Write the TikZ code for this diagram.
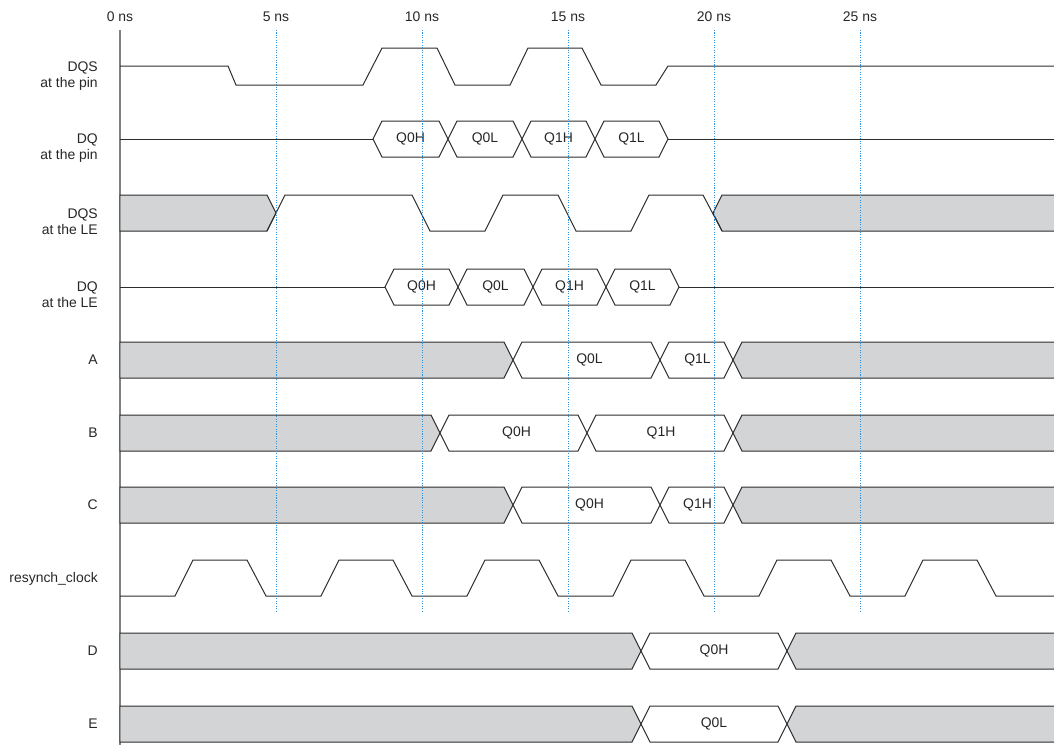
\documentclass[tikz,border=0pt]{standalone}
\usepackage{fontspec}
\setmainfont{Liberation Sans}
\definecolor{wavegray}{RGB}{211,212,214}
\definecolor{wireline}{RGB}{45,45,45}
\definecolor{markblue}{RGB}{50,145,210}
\begin{document}
\begin{tikzpicture}[x=0.03cm, y=-0.03cm,
    wave/.style={draw=wireline, line width=0.85pt},
    undef/.style={wave, fill=wavegray},
    valid/.style={wave, fill=white},
    marker/.style={markblue, dash pattern=on 0.9pt off 1.2pt, line width=0.85pt},
    axisline/.style={draw=black!50, line width=1.4pt},
    txt/.style={font=\fontsize{11.9}{13.8}\selectfont, text=black!85, inner sep=0pt},
    signame/.style={txt, align=right, anchor=east}]
    \useasboundingbox (0,0) rectangle (1054,745);

    % time axis
    \draw[axisline] (120,30) -- (120,745);
    \foreach \t/\x in {0/120,5/276,10/422,15/568,20/714,25/860}
        \node[txt] (t\t) at (\x,17) {\t\ ns};

    % signal names
    \node[signame] (nDQSpin) at (98,76) {DQS\\at the pin};
    \node[signame] (nDQpin) at (98,148) {DQ\\at the pin};
    \node[signame] (nDQSle) at (98,222) {DQS\\at the LE};
    \node[signame] (nDQle) at (98,295) {DQ\\at the LE};
    \node[signame] (nA) at (98,360) {A};
    \node[signame] (nB) at (98,433) {B};
    \node[signame] (nC) at (98,505) {C};
    \node[signame] (nclk) at (98,579) {resynch\_clock};
    \node[signame] (nD) at (98,651) {D};
    \node[signame] (nE) at (98,724) {E};

    % DQS at the pin
    \draw[wave] (120,66) -- (228,66) -- (236,85) -- (363,85) -- (382,48) -- (437,48) -- (455,85)
        -- (510,85) -- (528,48) -- (582,48) -- (601,85) -- (656,85) -- (668,66) -- (1060,66);

    % DQ at the pin
    \draw[wave] (120,139) -- (373,139);
    \draw[wave] (668,139) -- (1060,139);
    \foreach \a/\b/\v in {373/448/Q0H, 448/522/Q0L, 522/595/Q1H, 595/668/Q1L}{
        \draw[valid] (\a,139) -- ({\a+9},121) -- ({\b-9},121) -- (\b,139) -- ({\b-9},157) -- ({\a+9},157) -- cycle;
        \node[txt] (pin\v) at ({(\a+\b)/2},139) {\v};
    }

    % DQS at the LE
    \draw[undef] (120,195) -- (267,195) -- (276,213) -- (267,231) -- (120,231) -- cycle;
    \draw[undef] (713,213) -- (722,195) -- (1060,195) -- (1060,231) -- (722,231) -- cycle;
    \draw[wave] (267,231) -- (285,195) -- (412,195) -- (430,231) -- (485,231) -- (503,195) -- (558,195)
        -- (576,231) -- (631,231) -- (649,195) -- (703,195) -- (722,231);

    % DQ at the LE
    \draw[wave] (120,287) -- (385,287);
    \draw[wave] (679,287) -- (1060,287);
    \foreach \a/\b/\v in {385/458/Q0H, 458/533/Q0L, 533/606/Q1H, 606/679/Q1L}{
        \draw[valid] (\a,287) -- ({\a+9},269) -- ({\b-9},269) -- (\b,287) -- ({\b-9},305) -- ({\a+9},305) -- cycle;
        \node[txt] (le\v) at ({(\a+\b)/2},287) {\v};
    }

    % A, B, C, D, E
    \foreach \r/\c/\p/\q/\s/\u/\w in {A/360/513/660/733/Q0L/Q1L, B/433/440/587/733/Q0H/Q1H, C/505/513/660/733/Q0H/Q1H}{
        \draw[undef] (120,{\c-18}) -- ({\p-9},{\c-18}) -- (\p,\c) -- ({\p-9},{\c+18}) -- (120,{\c+18}) -- cycle;
        \draw[valid] (\p,\c) -- ({\p+9},{\c-18}) -- ({\q-9},{\c-18}) -- (\q,\c) -- ({\q-9},{\c+18}) -- ({\p+9},{\c+18}) -- cycle;
        \draw[valid] (\q,\c) -- ({\q+9},{\c-18}) -- ({\s-9},{\c-18}) -- (\s,\c) -- ({\s-9},{\c+18}) -- ({\q+9},{\c+18}) -- cycle;
        \draw[undef] (\s,\c) -- ({\s+9},{\c-18}) -- (1060,{\c-18}) -- (1060,{\c+18}) -- ({\s+9},{\c+18}) -- cycle;
        \node[txt] (\r\u) at ({(\p+\q)/2+3},\c) {\u};
        \node[txt] (\r\w) at ({(\q+\s)/2+1},\c) {\w};
    }
    \foreach \r/\c/\u in {D/651/Q0H, E/724/Q0L}{
        \draw[undef] (120,{\c-18}) -- (632,{\c-18}) -- (641,\c) -- (632,{\c+18}) -- (120,{\c+18}) -- cycle;
        \draw[valid] (641,\c) -- (650,{\c-18}) -- (778,{\c-18}) -- (787,\c) -- (778,{\c+18}) -- (650,{\c+18}) -- cycle;
        \draw[undef] (787,\c) -- (796,{\c-18}) -- (1060,{\c-18}) -- (1060,{\c+18}) -- (796,{\c+18}) -- cycle;
        \node[txt] (\r\u) at (714,\c) {\u};
    }

    % resynch_clock
    \draw[wave] (120,596) foreach \r in {175,321,467,613,759,905}{
        -- (\r,596) -- ({\r+18},560) -- ({\r+72},560) -- ({\r+91},596) } -- (1060,596);

    % time markers
    \foreach \x in {276,422,568,714,860}
        \draw[marker] (\x,30) -- (\x,613);
\end{tikzpicture}
\end{document}
